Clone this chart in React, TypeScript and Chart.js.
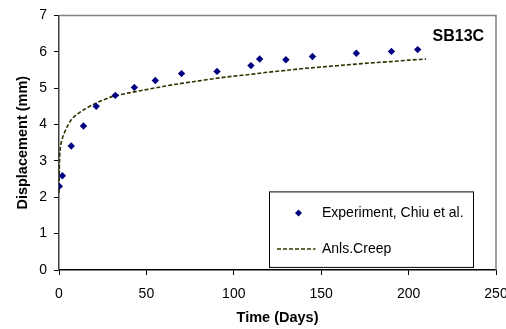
import React, { useEffect, useRef } from "react";
import { Chart, registerables } from "chart.js";

Chart.register(...registerables);

// Experiment, Chiu et al. (days, mm)
const expDays = [0.2, 1.9, 7, 14, 21.3, 32.2, 43.1, 55.1, 70.1, 90.4, 109.8, 114.8, 129.8, 145, 170.1, 190.2, 205.2];
const expDisp = [2.3, 2.59, 3.41, 3.96, 4.5, 4.8, 5.02, 5.21, 5.4, 5.46, 5.62, 5.8, 5.78, 5.87, 5.96, 6.01, 6.06];

// Anls.Creep curve
const creepDays = [0, 0.3, 0.8, 1.5, 3, 5, 7, 10, 15, 20, 25, 30, 35, 40, 50, 60, 70, 80, 90, 100, 110, 120, 130, 140, 150, 160, 170, 180, 190, 200, 210];
const creepDisp = [2.12, 3.0, 3.37, 3.55, 3.76, 3.97, 4.13, 4.27, 4.43, 4.56, 4.67, 4.76, 4.82, 4.87, 4.96, 5.05, 5.13, 5.2, 5.27, 5.33, 5.38, 5.44, 5.49, 5.54, 5.58, 5.62, 5.66, 5.7, 5.73, 5.77, 5.8];

const xTicks = [0, 50, 100, 150, 200, 250];
const yTicks = [0, 1, 2, 3, 4, 5, 6, 7];

const seriesLabels = ["Experiment, Chiu et al.", "Anls.Creep"];
const chartLabel = "SB13C";
const xTitle = "Time (Days)";
const yTitle = "Displacement (mm)";

const FONT = "'Liberation Sans', Arial, sans-serif";
const NAVY = "#000080";
const CREEP = "#333300";

const overlayPlugin = {
  id: "overlay",
  afterDraw(chart: any) {
    const ctx = chart.ctx;
    const a = chart.chartArea;
    ctx.save();
    // top & right frame
    ctx.strokeStyle = "#808080";
    ctx.lineWidth = 1.5;
    ctx.beginPath();
    ctx.moveTo(a.left, a.top);
    ctx.lineTo(a.right, a.top);
    ctx.lineTo(a.right, a.bottom);
    ctx.stroke();

    // chart label
    ctx.fillStyle = "#000";
    ctx.font = `bold 16px ${FONT}`;
    ctx.textBaseline = "middle";
    ctx.textAlign = "left";
    ctx.fillText(chartLabel, a.left + 373.5, a.top + 21);

    // legend box
    const lx = a.left + 210.5;
    const ly = a.top + 176.5;
    const lw = 204;
    const lh = 75.5;
    ctx.fillStyle = "#fff";
    ctx.fillRect(lx, ly, lw, lh);
    ctx.strokeStyle = "#000";
    ctx.lineWidth = 1;
    ctx.strokeRect(lx, ly, lw, lh);

    // experiment marker
    const my = ly + 21;
    const mx = lx + 29;
    ctx.fillStyle = NAVY;
    ctx.beginPath();
    ctx.moveTo(mx, my - 3.5);
    ctx.lineTo(mx + 3.5, my);
    ctx.lineTo(mx, my + 3.5);
    ctx.lineTo(mx - 3.5, my);
    ctx.closePath();
    ctx.fill();

    ctx.fillStyle = "#000";
    ctx.font = `14px ${FONT}`;
    ctx.textBaseline = "middle";
    ctx.fillText(seriesLabels[0], lx + 52.5, my);

    const cy = ly + 57;
    ctx.strokeStyle = CREEP;
    ctx.lineWidth = 1.5;
    ctx.setLineDash([4, 2]);
    ctx.beginPath();
    ctx.moveTo(lx + 7.5, cy);
    ctx.lineTo(lx + 46, cy);
    ctx.stroke();
    ctx.setLineDash([]);
    ctx.fillText(seriesLabels[1], lx + 52.5, cy);
    ctx.restore();
  },
};

export default function App() {
  const ref = useRef<HTMLCanvasElement | null>(null);

  useEffect(() => {
    document.body.style.margin = "0";
    const canvas = ref.current;
    if (!canvas) return;
    const chart = new Chart(canvas, {
      type: "scatter",
      data: {
        datasets: [
          {
            label: seriesLabels[0],
            data: expDays.map((x, i) => ({ x, y: expDisp[i] })),
            backgroundColor: NAVY,
            borderColor: NAVY,
            pointStyle: "rectRot",
            pointRadius: 3.7,
            pointBorderWidth: 0,
            showLine: false,
            order: 1,
          },
          {
            label: seriesLabels[1],
            data: creepDays.map((x, i) => ({ x, y: creepDisp[i] })),
            borderColor: CREEP,
            backgroundColor: CREEP,
            borderWidth: 1.6,
            borderDash: [4, 2],
            pointRadius: 0,
            showLine: true,
            cubicInterpolationMode: "monotone",
            order: 2,
          },
        ],
      },
      options: {
        responsive: false,
        animation: false,
        devicePixelRatio: 1,
        layout: { padding: { left: 0, right: 10, top: 13, bottom: 0 } },
        plugins: {
          legend: { display: false },
          tooltip: { enabled: false },
        },
        scales: {
          x: {
            type: "linear",
            min: 0,
            max: 250,
            afterBuildTicks: (s: any) => {
              s.ticks = xTicks.map((v) => ({ value: v }));
            },
            afterFit: (s: any) => {
              s.height = 59;
              s.paddingRight = 0;
              s.paddingLeft = 0;
            },
            grid: {
              drawOnChartArea: false,
              drawTicks: true,
              tickLength: 5,
              color: "#000",
            },
            border: { display: true, color: "#000", width: 1.5 },
            ticks: {
              color: "#000",
              padding: 11,
              maxRotation: 0,
              font: { family: FONT, size: 14 },
            },
            title: {
              display: true,
              text: xTitle,
              color: "#000",
              font: { family: FONT, size: 14.5, weight: "bold" },
              padding: { top: 0, bottom: 2.5 },
            },
          },
          y: {
            type: "linear",
            min: 0,
            max: 7,
            afterBuildTicks: (s: any) => {
              s.ticks = yTicks.map((v) => ({ value: v }));
            },
            afterFit: (s: any) => {
              s.width = 59;
            },
            grid: {
              drawOnChartArea: false,
              drawTicks: true,
              tickLength: 5,
              color: "#000",
            },
            border: { display: true, color: "#404040", width: 1.5 },
            ticks: {
              color: "#000",
              padding: 7,
              font: { family: FONT, size: 14 },
            },
            title: {
              display: true,
              text: yTitle,
              color: "#000",
              font: { family: FONT, size: 14.5, weight: "bold" },
              padding: { top: 14, bottom: 0 },
            },
          },
        },
      },
      plugins: [overlayPlugin],
    } as any);
    return () => chart.destroy();
  }, []);

  return (
    <div style={{ position: "fixed", left: 0, top: 0, width: 506, height: 329, background: "#fff" }}>
      <canvas ref={ref} width={506} height={329} style={{ display: "block" }} />
    </div>
  );
}
